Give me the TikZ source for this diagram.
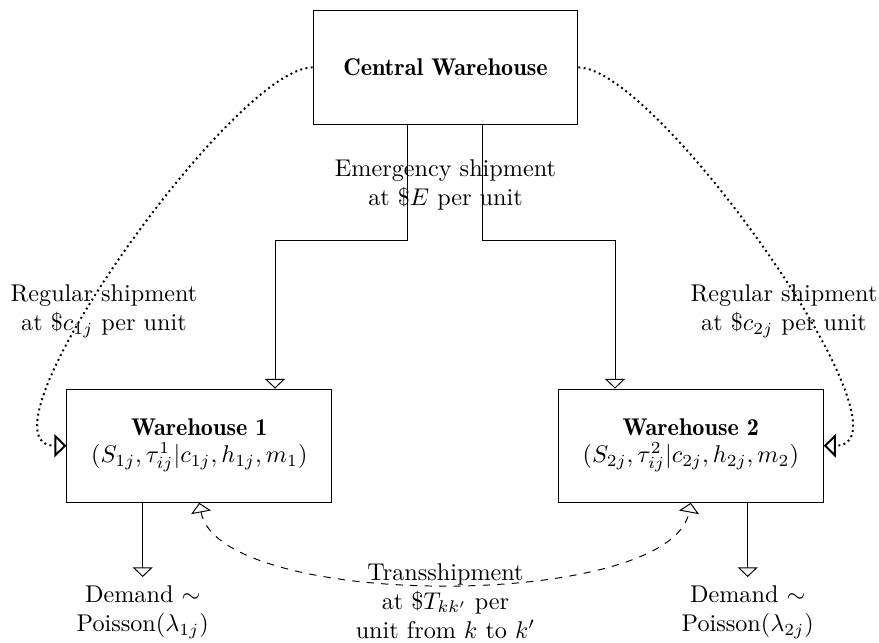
\documentclass[tikz,border=0pt]{standalone}
\usetikzlibrary{arrows.meta,calc}
\newcommand\mybold[1]{{\fontseries{b}\selectfont #1}}
\begin{document}
\begin{tikzpicture}[x=0.4132pt,y=-0.4132pt,
  box/.style={draw,rectangle,minimum width=109.4pt,minimum height=46.8pt,inner sep=0pt,align=center},
  lbl/.style={align=center},
  tri/.style={-{Triangle[open,length=4pt,width=8.3pt]}},
  reg/.style={line width=0.8pt,dash pattern=on 0.8pt off 1.4pt,-{Triangle[open,length=5pt,width=9.6pt]}},
  line width=0.4pt]
\useasboundingbox (0,0) rectangle (879,642);
\node[box] (cw) at (445.5,67.4) {\mybold{Central Warehouse}};
\node[box] (w1) at (199.3,445.7) {\mybold{Warehouse 1}\\[-1pt]$(S_{1j},\tau^1_{ij}|c_{1j},h_{1j},m_1)$};
\node[box] (w2) at (690.8,445.7) {\mybold{Warehouse 2}\\[-1pt]$(S_{2j},\tau^2_{ij}|c_{2j},h_{2j},m_2)$};
% emergency
\node[lbl] (em) at (445.5,185) {Emergency shipment\\at \$$E$ per unit};
\coordinate (e1) at (407.3,240);
\coordinate (e2) at (482.7,240);
\coordinate (a1) at (275,0);
\coordinate (a2) at (615,0);
\draw[tri] (cw.south -| e1) -- (e1) -| (a1 |- w1.north);
\draw[tri] (cw.south -| e2) -- (e2) -| (a2 |- w2.north);
% regular
\node[lbl] (r1) at (104,311) {Regular shipment\\at \$$c_{1j}$ per unit};
\node[lbl] (r2) at (784,311) {Regular shipment\\at \$$c_{2j}$ per unit};
\draw[reg] (cw.west) .. controls +(-80,0) and +(-100,0) .. (w1.west);
\draw[reg] (cw.east) .. controls +(80,0) and +(100,0) .. (w2.east);
% demand
\node[lbl,anchor=north] (d1) at (142.7,577) {Demand $\sim$\\Poisson$(\lambda_{1j})$};
\node[lbl,anchor=north] (d2) at (747.7,577) {Demand $\sim$\\Poisson$(\lambda_{2j})$};
\draw[tri] (d1.north |- w1.south) -- (d1.north);
\draw[tri] (d2.north |- w2.south) -- (d2.north);
% transshipment
\node[lbl] (ts) at (445.5,601) {Transshipment\\at \$$T_{kk'}$ per\\unit from $k$ to $k'$};
\draw[dashed,{Triangle[open,length=4pt,width=8.3pt]}-{Triangle[open,length=4pt,width=8.3pt]}] (w1.south) .. controls +(20,108) and +(-20,108) .. (w2.south);
\end{tikzpicture}
\end{document}
